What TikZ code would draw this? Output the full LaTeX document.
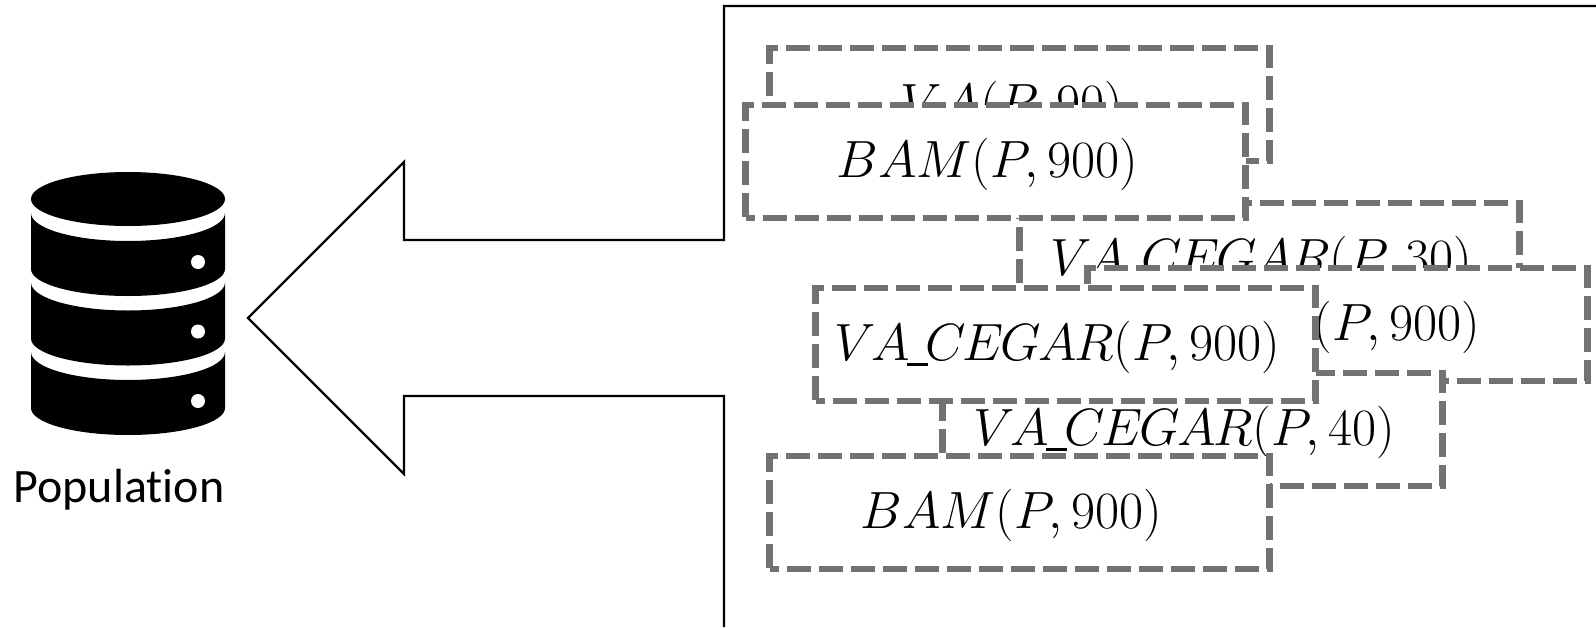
\documentclass[tikz,border=0pt]{standalone}
\usepackage{graphicx}
\usepackage{fontspec}
\newfontfamily\popfont[Ligatures=NoCommon]{Carlito}
\definecolor{boxgray}{HTML}{767171}
\tikzstyle{runbox}=[rectangle, draw=boxgray, fill=white, line width=3.4pt, dash pattern=on 12pt off 4pt, dash phase=7.5pt, inner sep=0pt, minimum width=250pt, minimum height=56.5pt, font=\fontsize{25}{30}\selectfont]
\tikzstyle{outline}=[draw, line width=1.2pt, miter limit=10]
\newcommand{\runbox}{\node[runbox]}
\newcommand{\runlabel}[1]{\rule{0pt}{23pt}\scalebox{1.053}{$#1$}\hspace*{8pt}}
\newcommand{\cegar}{V\mkern-1.5mu A\mkern-1mu\rule[-2.5pt]{10pt}{1.4pt}\mkern-1mu C\mkern-1mu E\mkern-1mu G\mkern-1mu A\mkern-1mu R}
\begin{document}
\begin{tikzpicture}[x=0.5pt, y=-0.5pt]
\useasboundingbox (0,0) rectangle (1596,627);
\draw [outline] (1596,6) -- (724,6) -- (724,240) -- (404,240) -- (404,162) -- (248,318) -- (404,474) -- (404,396) -- (724,396) -- (724,627);
\runbox (va90) at (1019.5,104.5) {\runlabel{VA(P,90)}};
\runbox (cegar30) at (1269.5,259.5) {\runlabel{\cegar(P,30)}};
\runbox (bam1) at (995.5,161.5) {\runlabel{BAM(P,900)}};
\runbox (bam2) at (1337.5,324.5) {\runlabel{BAM(P,900)}};
\runbox (cegar40) at (1192.5,429.5) {\runlabel{\cegar(P,40)}};
\runbox (cegar900) at (1065.5,344.5) {\runlabel{\cegar(P,900)}};
\runbox (bam3) at (1019.5,512.5) {\runlabel{BAM(P,900)}};
\fill (128,199) ellipse [x radius=97, y radius=27];
\foreach \dy in {0,69.5,139} {
\fill (31,213+\dy) arc [start angle=180, end angle=0, x radius=97, y radius=28] -- (225,269+\dy) arc [start angle=0, end angle=180, x radius=97, y radius=27] -- cycle;
\fill [white] (198,262+\dy) circle [radius=7];
}
\node [anchor=base, inner sep=0pt, font=\popfont\fontsize{24}{28}\selectfont] (population) at (119,502) {Population};
\end{tikzpicture}
\end{document}
